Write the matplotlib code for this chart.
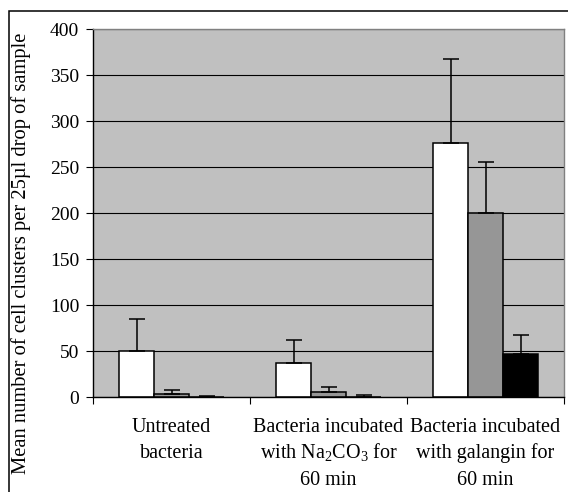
import numpy as np
import matplotlib
matplotlib.use("Agg")
import matplotlib.pyplot as plt
from matplotlib.patches import Rectangle

plt.rcParams['font.family'] = ['Liberation Serif', 'DejaVu Serif']
plt.rcParams['mathtext.fontset'] = 'custom'
plt.rcParams['mathtext.rm'] = 'Liberation Serif'
plt.rcParams['mathtext.default'] = 'regular'

# data
categories = [["Untreated", "bacteria"],
              ["Bacteria incubated", "with Na$_{2}$CO$_{3}$ for", "60 min"],
              ["Bacteria incubated", "with galangin for", "60 min"]]
white_vals = [50, 36.5, 276]
white_err = [35, 25, 91]
grey_vals = [3.3, 5.8, 200]
grey_err = [4.3, 5.4, 55]
black_vals = [0.3, 0.5, 46.5]
black_err = [0.3, 1.3, 21]
yticks = [0, 50, 100, 150, 200, 250, 300, 350, 400]

W, H = 568, 492
fig = plt.figure(figsize=(W / 100, H / 100), dpi=100)
ax = fig.add_axes([93 / W, 1 - 397 / H, (564 - 93) / W, (397 - 29) / H])

# outer frame
fig.patches.append(Rectangle((8.5 / W, -0.2), 1.2, 1.2 - 11 / H,
                             transform=fig.transFigure, fill=False,
                             edgecolor='black', linewidth=1.1))

x = np.arange(len(categories))
bw = 35 / 157
series = [(white_vals, white_err, 'white'),
          (grey_vals, grey_err, '#969696'),
          (black_vals, black_err, 'black')]
for i, (vals, err, col) in enumerate(series):
    pos = x + (i - 1) * bw
    ax.bar(pos, vals, width=bw, color=col, edgecolor='black', linewidth=1.1, zorder=2)
    ax.errorbar(pos, vals, yerr=[np.zeros(len(err)), err], fmt='none',
                ecolor='black', elinewidth=1.1, capsize=6, capthick=1.1, zorder=3)

ax.set_facecolor('#c0c0c0')
ax.set_ylim(0, 400)
ax.set_xlim(-0.5, 2.5)
ax.set_yticks(yticks)
ax.set_yticklabels([str(v) for v in yticks], fontsize=14)
ax.yaxis.grid(True, color='black', linewidth=0.8)
ax.set_axisbelow(True)

# category labels, one text per line so the spacing stays even
ax.set_xticks([-0.5, 0.5, 1.5, 2.5])
ax.set_xticklabels([])
ax.tick_params(axis='x', length=5, width=0.8, direction='out')
ax.tick_params(axis='y', length=5, width=0.8, direction='out', pad=5)
line_offsets = [25.5, 44, 63.5]
for xi, lines in zip(x, categories):
    for k, line in enumerate(lines):
        ax.annotate(line, xy=(xi, 0), xycoords=('data', 'axes fraction'),
                    xytext=(0, -line_offsets[k]), textcoords='offset points',
                    ha='center', va='baseline', fontsize=14.5)

for s in ['top', 'right']:
    ax.spines[s].set_color('#808080')
    ax.spines[s].set_linewidth(1.0)
for s in ['left', 'bottom']:
    ax.spines[s].set_color('black')
    ax.spines[s].set_linewidth(1.0)

fig.text(21 / W, 1 - 253 / H, "Mean number of cell clusters per 25µl drop of sample",
         rotation=90, ha='center', va='center', fontsize=14.8)

fig.savefig("out.png", dpi=100)
